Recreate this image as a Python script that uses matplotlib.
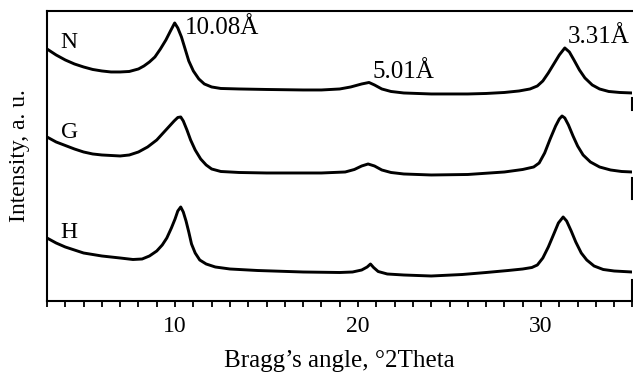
import matplotlib
matplotlib.use("Agg")
import matplotlib.pyplot as plt
from matplotlib.ticker import MultipleLocator, FixedLocator

plt.rcParams["font.family"] = ["Liberation Serif", "DejaVu Serif"]

# diffractograms, offset vertically (arbitrary units)
two_theta_N = [3.0, 3.5, 4.0, 4.5, 5.0, 5.5, 6.0, 6.5, 7.0, 7.5, 8.0, 8.3, 8.6, 8.9,
               9.2, 9.5, 9.75, 9.98, 10.15, 10.35, 10.55, 10.75, 11.0, 11.3, 11.6,
               12.0, 12.5, 13.5, 15.0, 17.0, 18.0, 19.0, 19.6, 20.2, 20.6, 20.9,
               21.3, 21.8, 22.5, 24.0, 26.0, 27.0, 28.0, 28.8, 29.4, 29.8, 30.1,
               30.4, 30.7, 31.0, 31.3, 31.55, 31.8, 32.1, 32.4, 32.8, 33.2, 33.7,
               34.3, 34.97]
int_N = [252, 246, 241, 237, 234, 231.5, 230, 229, 229, 229.5, 232, 235, 239, 244,
         252, 261, 270, 278, 273, 264, 252, 240, 230, 222, 217,
         214, 212.5, 212, 211.5, 211, 211, 212, 214, 217, 218.5, 216,
         212, 209.5, 208, 207, 207, 207.5, 208.5, 210, 212, 215, 220,
         228, 237, 246, 253, 249, 241, 231, 223, 216, 212, 209.5,
         208.5, 208]

two_theta_G = [3.0, 3.5, 4.0, 4.5, 5.0, 5.5, 6.0, 6.5, 7.0, 7.5, 8.0, 8.5, 9.0, 9.4,
               9.7, 9.95, 10.15, 10.31, 10.45, 10.65, 10.85, 11.1, 11.4, 11.7, 12.0,
               12.5, 13.5, 15.0, 18.0, 19.3, 19.8, 20.2, 20.55, 20.9, 21.3, 21.8,
               22.5, 24.0, 26.0, 28.0, 29.0, 29.6, 29.9, 30.2, 30.5, 30.8, 31.0,
               31.15, 31.3, 31.5, 31.75, 32.0, 32.3, 32.7, 33.2, 33.8, 34.4, 34.97]
int_G = [164, 159, 155.5, 152, 149, 147, 146, 145.5, 145, 146, 149, 154, 161, 169,
         175, 180, 183.5, 184, 180, 171, 161, 151, 142, 136, 132,
         129.5, 128.5, 128, 128, 129, 131.5, 135, 137, 135, 131, 128.5,
         127, 126, 126.5, 129, 131.5, 134, 138, 148, 162, 175, 182,
         185, 183, 176, 165, 155, 146, 139, 134, 131, 129.5, 129]

two_theta_H = [3.0, 3.5, 4.0, 4.5, 5.0, 5.5, 6.0, 7.0, 7.7, 8.2, 8.6, 9.0, 9.3, 9.55,
               9.8, 10.0, 10.15, 10.31, 10.45, 10.6, 10.75, 10.9, 11.1, 11.35, 11.7,
               12.2, 13.0, 14.5, 17.0, 19.0, 19.7, 20.2, 20.5, 20.68, 20.85, 21.1,
               21.6, 22.5, 24.0, 25.7, 27.0, 28.2, 29.0, 29.5, 29.8, 30.1, 30.4,
               30.7, 30.95, 31.21, 31.4, 31.65, 31.9, 32.2, 32.5, 32.9, 33.4, 34.0,
               34.97]
int_H = [63, 58, 54, 51, 48, 46.5, 45, 43, 41.5, 42, 45, 50, 56, 63,
         73, 82, 90, 94, 89, 80, 69, 57, 48, 41, 37,
         34, 32, 30.5, 29, 28.5, 29, 31, 34, 37, 33.5, 29.5,
         27, 26, 25, 26.5, 28.5, 30.5, 32, 33.5, 36, 43, 54,
         67, 78, 84, 80, 70, 59, 48, 41, 35, 31.5, 30,
         29]

sample_names = ["N", "G", "H"]
sample_label_y = [258, 168, 68]

peak_labels = ["10.08Å", "5.01Å", "3.31Å"]
peak_label_x = [10.53, 20.79, 31.48]
peak_label_y = [273, 229, 264]

fig = plt.figure(figsize=(6.33, 3.78), dpi=100)
ax = fig.add_axes([0.0742, 0.2037, 0.9250, 0.7673])

for x, y in [(two_theta_N, int_N), (two_theta_G, int_G), (two_theta_H, int_H)]:
    ax.plot(x, y, color="black", lw=2.1, solid_joinstyle="round",
            solid_capstyle="round")

for name, y in zip(sample_names, sample_label_y):
    ax.text(3.75, y, name, fontsize=17, ha="left", va="center")

for txt, x, y in zip(peak_labels, peak_label_x, peak_label_y):
    ax.text(x, y, txt, fontsize=18, ha="left", va="center")

ax.set_xlim(3, 35)
ax.set_ylim(0, 290)

# right frame only shows in short pieces
ax.spines["right"].set_visible(False)
for lo, hi in [(0.659, 0.70), (0.352, 0.424), (0.0, 0.072)]:
    ax.axvline(35, ymin=lo, ymax=hi, color="black", lw=1.5, clip_on=False)

for side in ["left", "top", "bottom"]:
    ax.spines[side].set_linewidth(1.5)

ax.xaxis.set_major_locator(FixedLocator([10, 20, 30]))
ax.xaxis.set_minor_locator(MultipleLocator(1))
ax.tick_params(axis="x", which="both", direction="out", length=4.5, width=1.3,
               labelsize=17, pad=6)
ax.set_yticks([])

ax.set_xlabel("Bragg’s angle, °2Theta", fontsize=18, labelpad=10)
ax.set_ylabel("Intensity, a. u.", fontsize=17, labelpad=12)

fig.savefig("out.png", dpi=100)
